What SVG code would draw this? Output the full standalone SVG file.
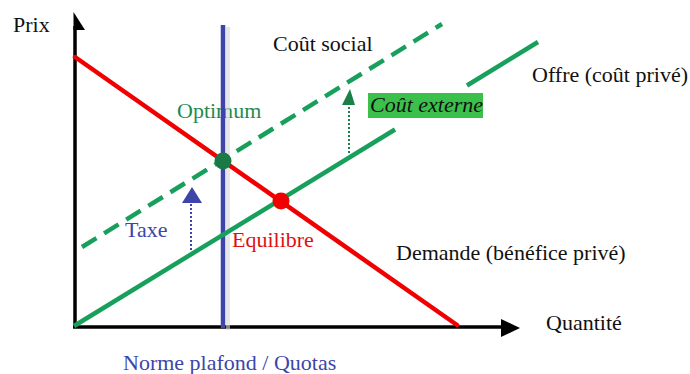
<svg xmlns="http://www.w3.org/2000/svg" width="690" height="374" viewBox="0 0 690 374">
  <style>
    text { font-family: "Liberation Serif", "Times New Roman", serif; font-size: 22px; }
    .blk { fill: #111; }
    .axis { stroke: #000; stroke-width: 3.5; fill: none; }
    .demand { stroke: #f00000; stroke-width: 4.5; fill: none; stroke-linecap: round; }
    .supply { stroke: #17a05c; stroke-width: 4.5; fill: none; }
    .social { stroke: #17a05c; stroke-width: 4.5; fill: none; stroke-dasharray: 17 9; }
    .quota { stroke: #3d45aa; stroke-width: 4.5; fill: none; }
    .shadow { stroke: #d6d6da; stroke-width: 4; fill: none; opacity: 0.6; }
    .dotblue { stroke: #3d45aa; stroke-width: 2; stroke-dasharray: 2 2; fill: none; }
    .dotgreen { stroke: #1a8048; stroke-width: 2; stroke-dasharray: 2 2; fill: none; }
  </style>
  <rect width="690" height="374" fill="#fff"/>

  <g id="optimum-label"><text x="177" y="118" fill="#1e8c50">Optimum</text></g>

  <g id="connectors">
    <!-- axes -->
    <line class="axis" x1="75" y1="328" x2="75" y2="26"/>
    <polygon points="73.5,12 85,30 73.5,30" fill="#000"/>
    <line class="axis" x1="73" y1="327" x2="505" y2="327"/>
    <polygon points="501,319 520,328 501,337" fill="#000"/>
    <!-- quota vertical line with shadow -->
    <line class="shadow" x1="228" y1="27" x2="228" y2="330"/>
    <line class="quota" x1="223" y1="25" x2="223" y2="328"/>
    <!-- demand -->
    <line class="demand" x1="75" y1="57" x2="457" y2="325"/>
    <!-- supply (private cost), broken around label -->
    <line class="supply" x1="74" y1="326" x2="395" y2="129.5"/>
    <line class="supply" x1="467" y1="85.5" x2="538" y2="42"/>
    <!-- social cost dashed -->
    <line class="social" x1="82" y1="247" x2="442" y2="24"/>
    <!-- tax arrow -->
    <line class="dotblue" x1="191" y1="250" x2="191" y2="203"/>
    <polygon points="182,203 202,203 192,187" fill="#3d45aa"/>
    <!-- external cost arrow -->
    <line class="dotgreen" x1="349" y1="153" x2="349" y2="104"/>
    <polygon points="342,105 355,105 350,89" fill="#1a8048"/>
  </g>

  <g id="optimum">
    <circle cx="223" cy="161" r="8.5" fill="#1a7a45"/>
  </g>
  <g id="equilibre">
    <circle cx="281" cy="201" r="8.5" fill="#f00000"/>
    <text x="232" y="247" fill="#e01010">Equilibre</text>
  </g>
  <g id="prix"><text class="blk" x="13" y="32">Prix</text></g>
  <g id="quantite"><text class="blk" x="546" y="330">Quantité</text></g>
  <g id="cout-social"><text class="blk" x="273" y="51">Coût social</text></g>
  <g id="offre"><text class="blk" x="532" y="82">Offre (coût privé)</text></g>
  <g id="demande"><text class="blk" x="396" y="260">Demande (bénéfice privé)</text></g>
  <g id="cout-externe">
    <rect x="368" y="93" width="115" height="25" fill="#3cc04c"/>
    <text class="blk" x="370" y="112" font-style="italic">Coût externe</text>
  </g>
  <g id="taxe"><text x="125" y="237" fill="#3d45aa">Taxe</text></g>
  <g id="norme"><text x="123" y="370" fill="#3d45aa">Norme plafond / Quotas</text></g>
</svg>
